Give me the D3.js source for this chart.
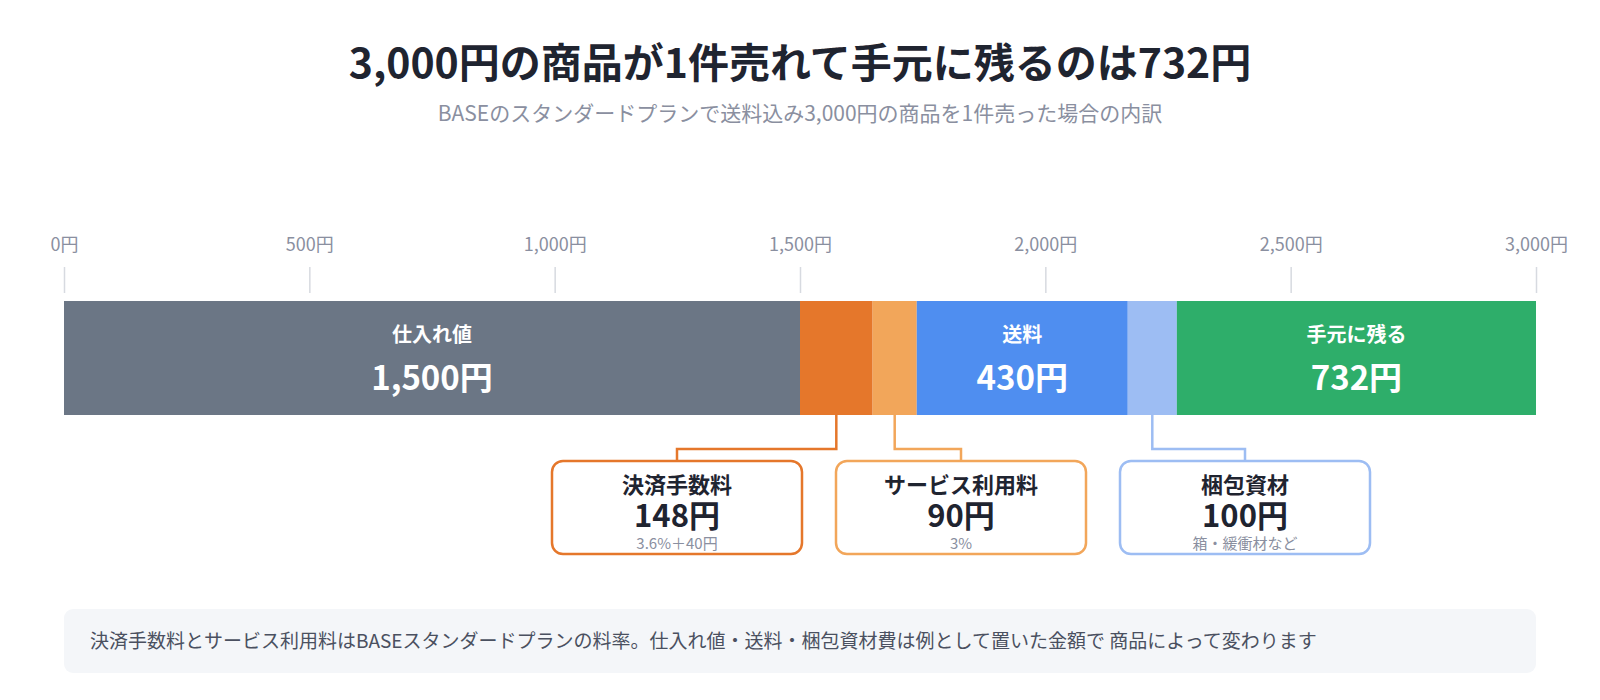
<!DOCTYPE html>
<html>
<head>
<meta charset="utf-8">
<script src="https://cdn.jsdelivr.net/npm/d3@7"></script>
<style>
  body { margin: 0; background: #fff; }
  svg { display: block; font-family: "Noto Sans CJK JP", "Noto Sans", sans-serif; }
</style>
</head>
<body>
<div id="chart"></div>
<script>
// breakdown of a 3,000 yen sale
const categories = ['仕入れ値', '決済手数料', 'サービス利用料', '送料', '梱包資材', '手元に残る'];
const amounts = [1500, 148, 90, 430, 100, 732];
const notes = ['', '3.6%＋40円', '3%', '', '箱・緩衝材など', ''];
const colors = ['#6B7685', '#E5772B', '#F2A65A', '#4F8EF0', '#9DBDF3', '#2EAE6A'];
const calloutCategories = ['決済手数料', 'サービス利用料', '梱包資材'];
const tickValues = [0, 500, 1000, 1500, 2000, 2500, 3000];

const title = '3,000円の商品が1件売れて手元に残るのは732円';
const subtitle = 'BASEのスタンダードプランで送料込み3,000円の商品を1件売った場合の内訳';
const footnote = '決済手数料とサービス利用料はBASEスタンダードプランの料率。仕入れ値・送料・梱包資材費は例として置いた金額で 商品によって変わります';

const W = 1600, H = 700;
const margin = { left: 64, right: 64 };
const barTop = 301, barH = 114;

const svg = d3.select('#chart').append('svg')
    .attr('width', W)
    .attr('height', H);

const fmt = d3.format(',');

const x = d3.scaleLinear()
    .domain([0, d3.sum(amounts)])
    .range([margin.left, W - margin.right]);

// title
svg.append('text')
    .attr('x', 800).attr('y', 78)
    .attr('text-anchor', 'middle')
    .attr('font-size', 41).attr('font-weight', 700)
    .attr('fill', '#1F2430')
    .text(title);

svg.append('text')
    .attr('x', 800).attr('y', 121)
    .attr('text-anchor', 'middle')
    .attr('font-size', 21)
    .attr('fill', '#8A8FA0')
    .text(subtitle);

// axis on top
const axis = svg.append('g')
    .attr('transform', 'translate(0,293)')
    .call(d3.axisTop(x).tickValues(tickValues).tickSize(26).tickPadding(16).tickFormat(d => fmt(d) + '円'));
axis.select('.domain').remove();
axis.selectAll('.tick line').attr('stroke', '#D7DAE0').attr('stroke-width', 1.5);
axis.selectAll('.tick text')
    .attr('font-size', 18)
    .attr('fill', '#8A8FA0')
    .attr('font-family', '"Noto Sans CJK JP", sans-serif');

// stacked segments
const ends = d3.cumsum(amounts);
const segs = categories.map((c, i) => ({
  name: c, value: amounts[i], note: notes[i], color: colors[i],
  x0: ends[i] - amounts[i], x1: ends[i]
}));

svg.append('g').selectAll('rect')
  .data(segs)
  .join('rect')
    .attr('x', d => x(d.x0))
    .attr('y', barTop)
    .attr('width', d => x(d.x1) - x(d.x0))
    .attr('height', barH)
    .attr('fill', d => d.color);

const inside = segs.filter(d => !calloutCategories.includes(d.name));
const inLabels = svg.append('g').selectAll('g')
  .data(inside)
  .join('g')
    .attr('transform', d => `translate(${(x(d.x0) + x(d.x1)) / 2},0)`);
inLabels.append('text')
    .attr('y', barTop + 41)
    .attr('text-anchor', 'middle')
    .attr('font-size', 20).attr('font-weight', 700)
    .attr('fill', '#fff')
    .text(d => d.name);
inLabels.append('text')
    .attr('y', barTop + 89)
    .attr('text-anchor', 'middle')
    .attr('font-size', 33).attr('font-weight', 700)
    .attr('fill', '#fff')
    .text(d => fmt(d.value) + '円');

// callouts below the bar
const outside = segs.filter(d => calloutCategories.includes(d.name));
const boxW = 250, boxH = 93, boxGap = 34, boxTop = 461, elbowY = 449;
const boxStart = 552;

const call = svg.append('g').selectAll('g')
  .data(outside)
  .join('g');

call.each(function(d, i) {
  const g = d3.select(this);
  const cx = boxStart + i * (boxW + boxGap) + boxW / 2;
  const sx = (x(d.x0) + x(d.x1)) / 2;
  g.append('path')
      .attr('d', `M${sx},${barTop + barH} V${elbowY} H${cx} V${boxTop}`)
      .attr('fill', 'none')
      .attr('stroke', d.color)
      .attr('stroke-width', 2.5);
  g.append('rect')
      .attr('x', cx - boxW / 2).attr('y', boxTop)
      .attr('width', boxW).attr('height', boxH)
      .attr('rx', 11)
      .attr('fill', '#fff')
      .attr('stroke', d.color)
      .attr('stroke-width', 2.5);
  g.append('text')
      .attr('x', cx).attr('y', boxTop + 32)
      .attr('text-anchor', 'middle')
      .attr('font-size', 22).attr('font-weight', 700)
      .attr('fill', '#1F2430')
      .text(d.name);
  g.append('text')
      .attr('x', cx).attr('y', boxTop + 66)
      .attr('text-anchor', 'middle')
      .attr('font-size', 31).attr('font-weight', 700)
      .attr('fill', '#1F2430')
      .text(fmt(d.value) + '円');
  g.append('text')
      .attr('x', cx).attr('y', boxTop + 88)
      .attr('text-anchor', 'middle')
      .attr('font-size', 15)
      .attr('fill', '#8A8FA0')
      .text(d.note);
});

// footnote
svg.append('rect')
    .attr('x', margin.left).attr('y', 609)
    .attr('width', x.range()[1] - margin.left).attr('height', 64)
    .attr('rx', 9)
    .attr('fill', '#F4F6F9');
svg.append('text')
    .attr('x', 90).attr('y', 648)
    .attr('font-size', 19)
    .attr('fill', '#4A5060')
    .text(footnote);
</script>
</body>
</html>
